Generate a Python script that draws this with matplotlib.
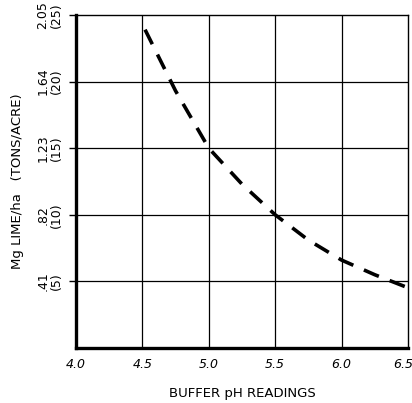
import matplotlib
matplotlib.use("Agg")
import matplotlib.pyplot as plt
from matplotlib.transforms import ScaledTranslation

# Lime requirement versus buffer pH
buffer_ph = [4.52, 4.75, 5.0, 5.25, 5.5, 5.75, 6.0, 6.25, 6.48]
lime_tons_acre = [23.9, 19.3, 15.0, 12.3, 10.0, 8.1, 6.6, 5.5, 4.6]

x_ticks = [4.0, 4.5, 5.0, 5.5, 6.0, 6.5]
x_tick_labels = ["4.0", "4.5", "5.0", "5.5", "6.0", "6.5"]
y_ticks = [5, 10, 15, 20, 25]
y_tick_labels = [".41\n(5)", ".82\n(10)", "1.23\n(15)", "1.64\n(20)", "2.05\n(25)"]

fig = plt.figure(figsize=(4.12, 4.03), dpi=100)
W, H = 412, 403
ax = fig.add_axes([76 / W, 1 - 348 / H, (408 - 76) / W, (348 - 15) / H])

ax.set_xlim(4.0, 6.5)
ax.set_ylim(0, 25)

ax.plot(buffer_ph, lime_tons_acre, color="black", lw=2.6,
        dashes=(4.5, 3.2), solid_capstyle="butt", dash_capstyle="butt")

for xv in x_ticks[1:-1]:
    ax.axvline(xv, color="black", lw=0.9, zorder=0)
for yv in y_ticks[:-1]:
    ax.axhline(yv, color="black", lw=0.9, zorder=0)

ax.set_xticks(x_ticks)
ax.set_xticklabels(x_tick_labels, fontsize=9, style="italic")
ax.tick_params(axis="x", length=0, pad=7)
# keep the last pH label inside the figure edge
last = ax.get_xticklabels()[-1]
last.set_transform(last.get_transform() + ScaledTranslation(-5 / 100, 0, fig.dpi_scale_trans))

ax.set_yticks(y_ticks)
ax.set_yticklabels(y_tick_labels, fontsize=9, rotation=90, va="center",
                   ha="center", linespacing=1.0)
ax.tick_params(axis="y", length=5, width=1, pad=14)

for side in ("left", "bottom"):
    ax.spines[side].set_linewidth(2.4)
for side in ("top", "right"):
    ax.spines[side].set_linewidth(1.0)

ax.set_xlabel("BUFFER pH READINGS", fontsize=9.5, labelpad=12)
ax.set_ylabel("Mg LIME/ha   (TONS/ACRE)", fontsize=9.5, labelpad=9)

fig.savefig("out.png", dpi=100)
